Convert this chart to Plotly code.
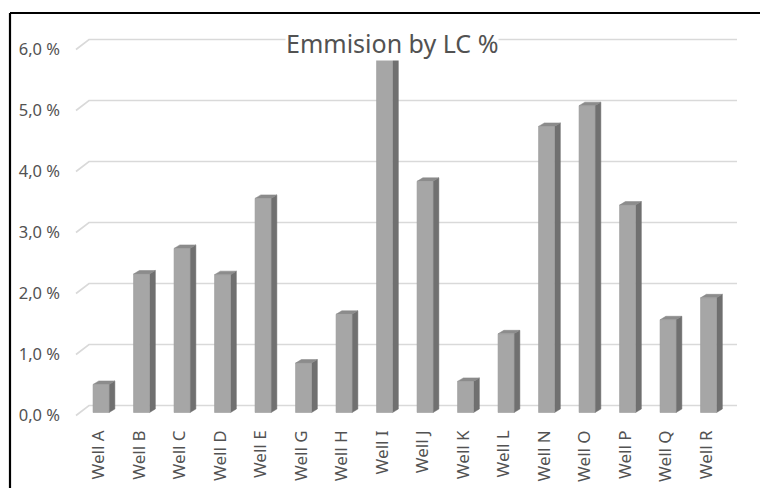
import plotly.graph_objects as go

# Emission share per well (percent)
wells = ["Well A", "Well B", "Well C", "Well D", "Well E", "Well G", "Well H", "Well I",
         "Well J", "Well K", "Well L", "Well N", "Well O", "Well P", "Well Q", "Well R"]
emission_pct = [0.46, 2.27, 2.69, 2.26, 3.51, 0.81, 1.61, 5.80,
                3.79, 0.51, 1.29, 4.69, 5.03, 3.40, 1.52, 1.88]
y_ticks = [0, 1, 2, 3, 4, 5, 6]
y_tick_text = ["0,0 %", "1,0 %", "2,0 %", "3,0 %", "4,0 %", "5,0 %", "6,0 %"]

# 3D column geometry (axis units)
PX_X = 40.5            # pixels per category
PX_Y = 61.0            # pixels per percent
front_drop = 7 / PX_Y  # front face sits slightly below the back wall floor
face_left = -0.40
face_width = 0.395
dx = 5.8 / PX_X        # depth offset of side/top faces
dy = 3.5 / PX_Y
wall_dx = 13 / PX_X    # side-wall depth for gridlines
wall_dy = 10 / PX_Y

TXT = "#525252"
FONT = "Noto Sans"

idx = list(range(len(wells)))
fig = go.Figure()

# polygons for front, side and top faces of each column
fx, fy, sx, sy, tx, ty = [], [], [], [], [], []
for i, v in zip(idx, emission_pct):
    xl = i + face_left
    xr = xl + face_width
    top = v - front_drop
    base = -front_drop
    fx += [xl, xr, xr, xl, xl, None]
    fy += [base, base, top, top, base, None]
    sx += [xr, xr + dx, xr + dx, xr, xr, None]
    sy += [base, base + dy, top + dy, top, base, None]
    tx += [xl, xl + dx, xr + dx, xr, xl, None]
    ty += [top, top + dy, top + dy, top, top, None]

fig.add_trace(go.Scatter(x=sx, y=sy, mode="lines", fill="toself",
                         fillcolor="#707070", line=dict(width=0.5, color="#6a6a6a"),
                         hoverinfo="skip", showlegend=False))
fig.add_trace(go.Scatter(x=tx, y=ty, mode="lines", fill="toself",
                         fillcolor="#8c8c8c", line=dict(width=0.5, color="#858585"),
                         hoverinfo="skip", showlegend=False))
fig.add_trace(go.Scatter(x=fx, y=fy, mode="lines", fill="toself",
                         fillcolor="#a6a6a6", line=dict(width=0.6, color="#9c9c9c"),
                         text=[w for w in wells for _ in range(6)],
                         hoverinfo="text", showlegend=False))

L, R, T, B = 70, 745, 30, 422
W, H = 760, 488
x0 = -0.5 - 19 / PX_X
x1 = x0 + (R - L) / PX_X
y1 = (405.5 - T) / PX_Y
y0 = (405.5 - B) / PX_Y

# back-wall gridlines with the short side-wall stroke on the left, behind the columns
grid_shapes = [
    dict(type="path", xref="x", yref="y", layer="below",
         path=f"M {-0.5 - wall_dx},{g - wall_dy} L -0.5,{g} L {len(wells) - 0.5},{g}",
         line=dict(color="#d9d9d9", width=1.6))
    for g in y_ticks
]

fy_border = (B - 13) / (B - T)
fx_border = (10 - L) / (R - L)
frame_shapes = [
    dict(type="line", xref="paper", yref="paper",
         x0=fx_border, x1=1.3, y0=fy_border, y1=fy_border,
         line=dict(color="black", width=2.2)),
    dict(type="line", xref="paper", yref="paper",
         x0=fx_border, x1=fx_border, y0=fy_border, y1=-0.3,
         line=dict(color="black", width=2.2)),
]

fig.update_layout(
    width=W, height=H,
    margin=dict(l=L, r=W - R, t=T, b=H - B, pad=0, autoexpand=False),
    paper_bgcolor="white", plot_bgcolor="white",
    font=dict(family=FONT, color=TXT, size=15),
    xaxis=dict(range=[x0, x1], showgrid=False, zeroline=False, showline=False,
               automargin=False,
               tickmode="array", tickvals=[i - 0.26 for i in idx], ticktext=wells,
               tickangle=-90, ticks="", ticklabelstandoff=4,
               tickfont=dict(size=17, color=TXT, family=FONT)),
    yaxis=dict(range=[y0, y1], showgrid=False, zeroline=False, showline=False,
               automargin=False,
               tickmode="array", tickvals=y_ticks, ticktext=y_tick_text,
               ticks="", ticklabelshift=10, ticklabelstandoff=9,
               tickfont=dict(size=16.5, color=TXT, family=FONT)),
    annotations=[dict(text="Emmision by LC %", xref="paper", yref="paper",
                      x=(392 - L) / (R - L), y=(B - 43) / (B - T),
                      xanchor="center", yanchor="middle", showarrow=False,
                      bgcolor="white", borderpad=0,
                      font=dict(size=25, color=TXT, family=FONT))],
    shapes=grid_shapes + frame_shapes,
)

fig.write_html("out.html")
